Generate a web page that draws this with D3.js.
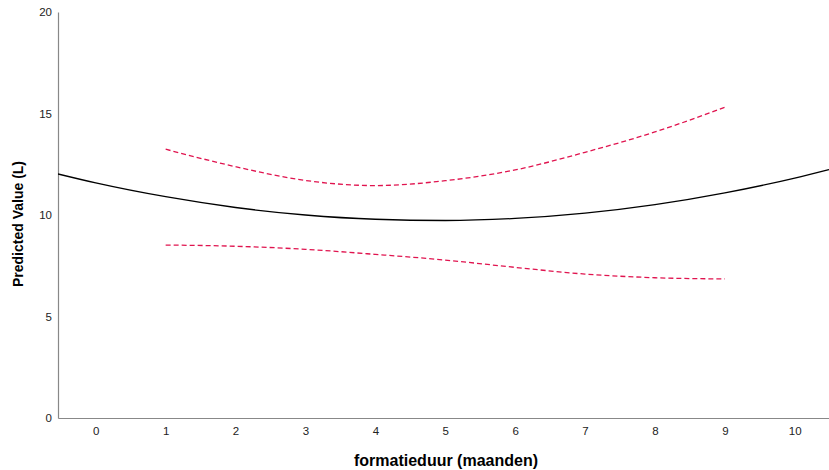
<!DOCTYPE html>
<html>
<head>
<meta charset="utf-8">
<script src="https://cdn.jsdelivr.net/npm/d3@7"></script>
<style>
  html, body { margin: 0; padding: 0; background: #fff; }
  svg { display: block; font-family: "Liberation Sans", Arial, sans-serif; }
</style>
</head>
<body>
<svg id="chart" width="829" height="470"></svg>
<script>
// Fitted curve and its confidence bounds over formatieduur (maanden)
const fitX = [-0.54, 0, 1, 2, 3, 4, 5, 6, 7, 8, 9, 10, 10.49];
const fitY = [12.02, 11.58, 10.90, 10.37, 10.00, 9.79, 9.73, 9.83, 10.09, 10.51, 11.09, 11.82, 12.24];

const bandX = [1, 2, 3, 4, 5, 6, 7, 8, 9];
const upperY = [13.24, 12.38, 11.70, 11.45, 11.69, 12.22, 13.09, 14.09, 15.31];
const lowerY = [8.52, 8.46, 8.31, 8.06, 7.78, 7.42, 7.09, 6.91, 6.85];

const xTicks = [0, 1, 2, 3, 4, 5, 6, 7, 8, 9, 10];
const yTicks = [0, 5, 10, 15, 20];

const svg = d3.select("#chart");
const plotLeft = 58, plotRight = 829, plotTop = 12, plotBottom = 418;

const x = d3.scaleLinear().domain([-0.54, 10.49]).range([plotLeft, plotRight]);
const y = d3.scaleLinear().domain([0, 20]).range([plotBottom, plotTop]);

// Axes: plain grey lines with labels, no tick marks
const xAxis = svg.append("g")
  .attr("transform", `translate(0,${plotBottom})`)
  .call(d3.axisBottom(x).tickValues(xTicks).tickSize(0).tickPadding(9).tickFormat(d3.format("d")));
xAxis.select(".domain").attr("stroke", "#888").attr("stroke-width", 1.2);
xAxis.selectAll("text").attr("font-size", 11.5).attr("fill", "#222");

const yAxis = svg.append("g")
  .attr("transform", `translate(${plotLeft},0)`)
  .call(d3.axisLeft(y).tickValues(yTicks).tickSize(0).tickPadding(6).tickFormat(d3.format("d")));
yAxis.select(".domain").attr("stroke", "#888").attr("stroke-width", 1.2);
yAxis.selectAll("text").attr("font-size", 11.5).attr("fill", "#222");

const line = d3.line().curve(d3.curveMonotoneX);

svg.append("clipPath").attr("id", "plot")
  .append("rect").attr("x", plotLeft).attr("y", plotTop)
  .attr("width", plotRight - plotLeft).attr("height", plotBottom - plotTop);

const plot = svg.append("g").attr("clip-path", "url(#plot)");

plot.append("path")
  .attr("d", line(bandX.map((v, i) => [x(v), y(upperY[i])])))
  .attr("fill", "none").attr("stroke", "#e0144f").attr("stroke-width", 1.3)
  .attr("stroke-dasharray", "5,3");

plot.append("path")
  .attr("d", line(bandX.map((v, i) => [x(v), y(lowerY[i])])))
  .attr("fill", "none").attr("stroke", "#e0144f").attr("stroke-width", 1.3)
  .attr("stroke-dasharray", "5,3");

plot.append("path")
  .attr("d", line(fitX.map((v, i) => [x(v), y(fitY[i])])))
  .attr("fill", "none").attr("stroke", "#000").attr("stroke-width", 1.3);

// Axis titles
svg.append("text")
  .attr("x", 446).attr("y", 466)
  .attr("text-anchor", "middle")
  .attr("font-size", 16).attr("font-weight", "bold")
  .text("formatieduur (maanden)");

svg.append("text")
  .attr("transform", "translate(23,224) rotate(-90)")
  .attr("text-anchor", "middle")
  .attr("font-size", 14).attr("font-weight", "bold")
  .text("Predicted Value (L)");
</script>
</body>
</html>
